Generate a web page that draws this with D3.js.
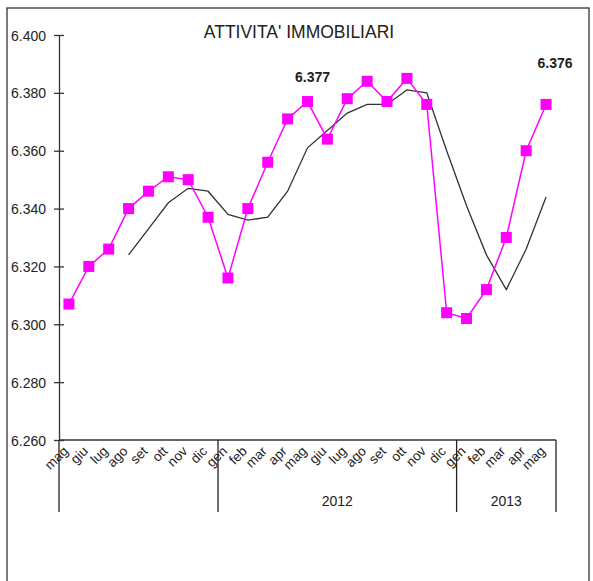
<!DOCTYPE html>
<html>
<head>
<meta charset="utf-8">
<script src="https://cdn.jsdelivr.net/npm/d3@7"></script>
<style>
html,body{margin:0;padding:0;background:#fff;}
svg{display:block;font-family:"Liberation Sans",Arial,sans-serif;}
</style>
</head>
<body>
<svg id="chart" width="593" height="581"></svg>
<script>
const months = ["mag","giu","lug","ago","set","ott","nov","dic","gen","feb","mar","apr","mag","giu","lug","ago","set","ott","nov","dic","gen","feb","mar","apr","mag"];
const yearLabels = ["", "2012", "2013"];
const yearStarts = [0, 8, 20];
const seriesMonthly = [6.307, 6.320, 6.326, 6.340, 6.346, 6.351, 6.350, 6.337, 6.316, 6.340, 6.356, 6.371, 6.377, 6.364, 6.378, 6.384, 6.377, 6.385, 6.376, 6.304, 6.302, 6.312, 6.330, 6.360, 6.376];
const seriesTrend = [null, null, null, 6.324, 6.333, 6.342, 6.347, 6.346, 6.338, 6.336, 6.337, 6.346, 6.361, 6.367, 6.373, 6.376, 6.376, 6.381, 6.380, 6.360, 6.341, 6.324, 6.312, 6.326, 6.344];
const yTicks = [6.26, 6.28, 6.30, 6.32, 6.34, 6.36, 6.38, 6.40];
const annotIdx = [12, 24];
const title = "ATTIVITA' IMMOBILIARI";

(function () {
const svg = d3.select("#chart");
const pLeft = 59, pRight = 556, pTop = 35, pBottom = 440;

// outer frame
svg.append("rect").attr("x", 7).attr("y", 8).attr("width", 582).attr("height", 600)
  .attr("fill", "none").attr("stroke", "#333").attr("stroke-width", 1.3);

const x = d3.scaleBand().domain(d3.range(months.length)).range([pLeft, pRight]).padding(0);
const bw = x.bandwidth();
const cx = i => x(i) + bw / 2;
const y = d3.scaleLinear().domain([6.26, 6.40]).range([pBottom, pTop]);

// y axis
const yAxis = d3.axisLeft(y).tickValues(yTicks).tickFormat(d3.format(".3f")).tickSize(0);
const gy = svg.append("g").attr("transform", `translate(${pLeft},0)`).call(yAxis);
gy.select(".domain").attr("stroke", "#333").attr("stroke-width", 1.3);
gy.selectAll(".tick line").remove();
gy.selectAll(".tick").append("line").attr("x1", -5).attr("x2", 5).attr("stroke", "#333").attr("stroke-width", 1.3);
gy.selectAll(".tick text").attr("x", -13).attr("dy", "0.36em")
  .attr("font-size", 14).attr("fill", "#222").attr("font-family", "Liberation Sans, Arial, sans-serif");

// x axis line
svg.append("line").attr("x1", pLeft).attr("x2", pRight).attr("y1", pBottom).attr("y2", pBottom)
  .attr("stroke", "#333").attr("stroke-width", 1.3);

// month labels
svg.append("g").selectAll("text").data(months).join("text")
  .attr("transform", (d, i) => `translate(${cx(i)},${pBottom + 12}) rotate(-45)`)
  .attr("text-anchor", "end")
  .attr("font-size", 13.5).attr("fill", "#222")
  .text(d => d);

// year separators and labels
const bounds = yearStarts.concat([months.length]);
bounds.forEach(b => {
  const xx = b < months.length ? x(b) : pRight;
  svg.append("line").attr("x1", xx).attr("x2", xx).attr("y1", pBottom).attr("y2", 512)
    .attr("stroke", "#222").attr("stroke-width", 1.3);
});
yearLabels.forEach((lab, k) => {
  const x0 = x(yearStarts[k]);
  const x1 = k + 1 < yearStarts.length ? x(yearStarts[k + 1]) : pRight;
  svg.append("text").attr("x", (x0 + x1) / 2).attr("y", 506)
    .attr("text-anchor", "middle").attr("font-size", 14).attr("fill", "#222").text(lab);
});

// trend line
const lineGen = d3.line().defined(d => d != null).x((d, i) => cx(i)).y(d => y(d));
svg.append("path").datum(seriesTrend).attr("d", lineGen)
  .attr("fill", "none").attr("stroke", "#333").attr("stroke-width", 1.3);

// monthly line
svg.append("path").datum(seriesMonthly).attr("d", lineGen)
  .attr("fill", "none").attr("stroke", "#ff00ff").attr("stroke-width", 1.5);
const sq = 11;
svg.append("g").selectAll("rect").data(seriesMonthly).join("rect")
  .attr("x", (d, i) => cx(i) - sq / 2).attr("y", d => y(d) - sq / 2)
  .attr("width", sq).attr("height", sq).attr("fill", "#ff00ff");

// annotations
const annotDy = [-20, -36];
const annotDx = [5, 9];
annotIdx.forEach((i, k) => {
  svg.append("text").attr("x", cx(i) + annotDx[k]).attr("y", y(seriesMonthly[i]) + annotDy[k])
    .attr("text-anchor", "middle").attr("font-size", 14).attr("font-weight", "bold").attr("fill", "#222")
    .text(d3.format(".3f")(seriesMonthly[i]));
});

// title
svg.append("text").attr("x", 299).attr("y", 38).attr("text-anchor", "middle")
  .attr("font-size", 17.5).attr("fill", "#222").text(title);
})();
</script>
</body>
</html>
